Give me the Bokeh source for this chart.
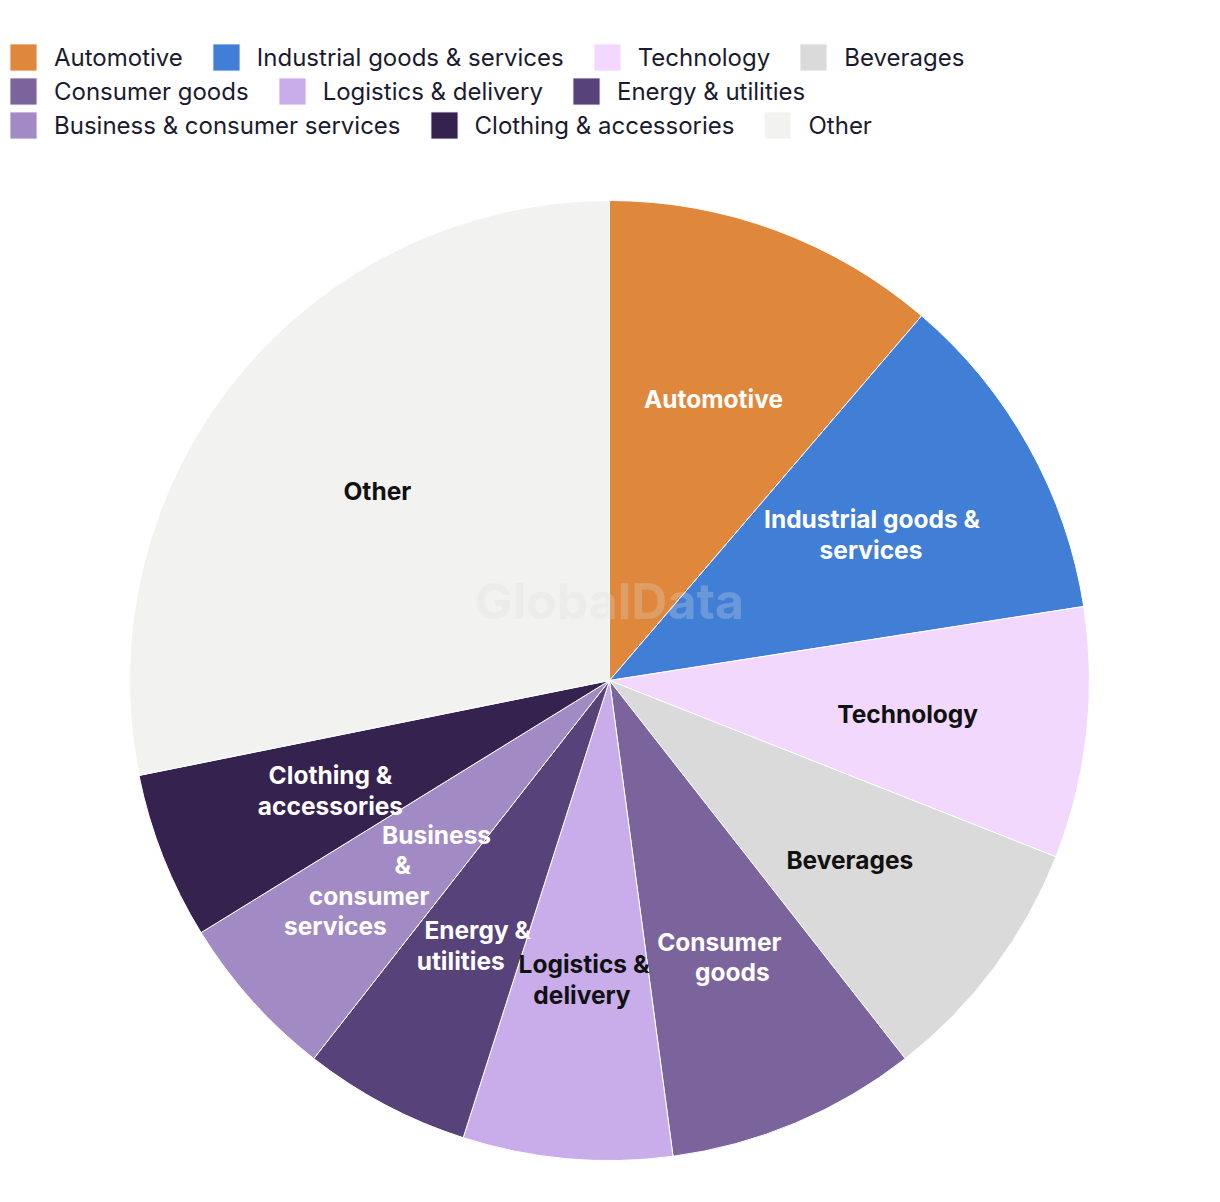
import math
from bokeh.plotting import figure
from bokeh.models import ColumnDataSource, Range1d, Legend, LegendItem
from bokeh.core.properties import value
from bokeh.embed import file_html
from bokeh.resources import INLINE

categories = ["Automotive", "Industrial goods & services", "Technology", "Beverages",
              "Consumer goods", "Logistics & delivery", "Energy & utilities",
              "Business & consumer services", "Clothing & accessories", "Other"]
values = [8, 8, 6, 6, 6, 5, 4, 4, 4, 20]
slice_labels = ["Automotive", "Industrial goods &\nservices", "Technology", "Beverages",
                "Consumer\ngoods", "Logistics &\ndelivery", "Energy &\nutilities",
                "Business\n&\nconsumer\nservices", "Clothing &\naccessories", "Other"]
colors = ["#DF873A", "#417ED6", "#F2D8FD", "#DADADA", "#7B649C",
          "#C8ADEA", "#574279", "#A28AC4", "#35224F", "#F2F2F0"]
label_colors = ["white", "white", "#111111", "#111111", "white",
                "#111111", "white", "white", "white", "#111111"]
legend_rows = [[0, 1, 2, 3], [4, 5, 6], [7, 8, 9]]

# ---- layout / style ----
W, H = 1204, 1186
CX = 609        # pie centre, px from left of figure
CY = 680        # pie centre, px from top of figure
R = 480
LABEL_R = 300
LINE_H = 30.5   # label line spacing (px)
LINE_SLANT = [0, -1, 0, 0, 13, -2, -17, -33.7, 0, 0]  # per-line x drift of wrapped labels
FONT = "Inter"

total = sum(values)
starts, ends = [], []
tx, ty, tt, tc = [], [], [], []
cum = 0.0
for i, v in enumerate(values):
    a0 = cum / total * 2 * math.pi
    cum += v
    a1 = cum / total * 2 * math.pi
    starts.append(math.pi / 2 - a0)
    ends.append(math.pi / 2 - a1)
    mid = (a0 + a1) / 2
    cx = LABEL_R * math.sin(mid)
    cy = LABEL_R * math.cos(mid)
    lines = slice_labels[i].split("\n")
    n = len(lines)
    for k, line in enumerate(lines):
        off = k - (n - 1) / 2
        tx.append(cx + LINE_SLANT[i] * off)
        ty.append(cy - LINE_H * off)
        tt.append(line)
        tc.append(label_colors[i])

src = ColumnDataSource(dict(cat=categories, val=values, start=starts, end=ends,
                            color=colors))
lab_src = ColumnDataSource(dict(x=tx, y=ty, text=tt, color=tc))

p = figure(width=W, height=H, output_backend="svg", toolbar_location=None,
           x_range=Range1d(-CX, W - CX), y_range=Range1d(-(H - CY), CY),
           x_axis_location=None, y_axis_location=None, min_border=0,
           tools="")
p.grid.visible = False
p.outline_line_color = None
p.background_fill_color = "white"

wr = p.wedge(x=0, y=0, radius=R, start_angle="start", end_angle="end",
             direction="clock", fill_color="color", line_color="white",
             line_width=1, source=src)

p.text(x="x", y="y", text="text", text_color="color", source=lab_src,
       text_align="center", text_baseline="middle",
       text_font=value(FONT), text_font_style="bold", text_font_size="24.5px")

p.text(x=[0], y=[80], text=["GlobalData"], text_align="center",
       text_baseline="middle", text_font=value(FONT), text_font_style="bold",
       text_font_size="50px", text_color="#dcdcdc", text_alpha=0.27)

row_tops = [46, 80, 114]
for row, top in zip(legend_rows, row_tops):
    items = [LegendItem(label=categories[i], renderers=[wr], index=i) for i in row]
    lg = Legend(items=items, orientation="horizontal",
                location=(6, H - top - 28),
                glyph_width=34, glyph_height=34, label_height=28,
                label_standoff=14, spacing=26, padding=0, margin=0,
                border_line_color=None, background_fill_alpha=0,
                label_text_font=FONT, label_text_font_size="24px",
                label_text_color="#1b1b2f", label_text_baseline="middle")
    p.add_layout(lg, "center")

open("out.html", "w").write(file_html(p, INLINE))
